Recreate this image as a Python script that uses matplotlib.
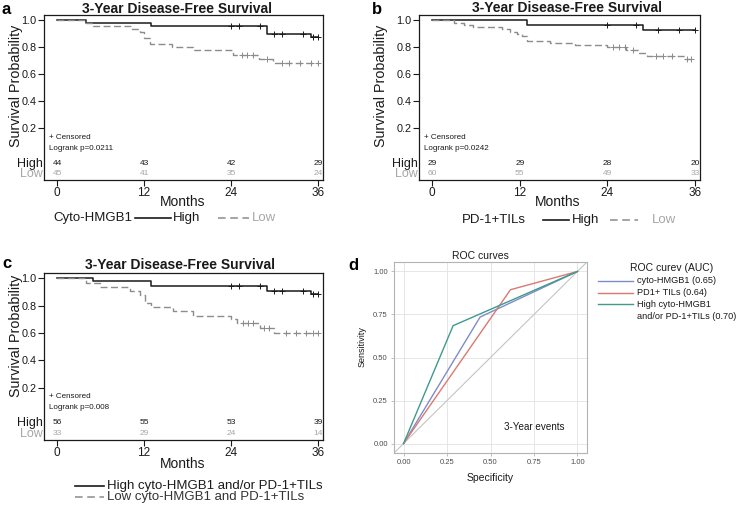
import numpy as np
import matplotlib.pyplot as plt
from matplotlib.lines import Line2D

plt.rcParams['font.family'] = ['Liberation Sans', 'DejaVu Sans']

W, H = 738, 508

# Kaplan-Meier curves: step months and survival after each step
a_high_t = [0, 4, 13, 29, 35, 36]
a_high_s = [1.0, 0.977, 0.955, 0.900, 0.878, 0.878]
a_high_cens = [24, 25.1, 28, 30, 31, 34, 35.3, 36]
a_low_t = [0, 4, 5, 10.3, 11.4, 12.0, 12.8, 15.8, 18.8, 24.3, 27.8, 29.8, 36]
a_low_s = [1.0, 0.978, 0.956, 0.933, 0.911, 0.867, 0.822, 0.800, 0.778, 0.745, 0.712, 0.685, 0.685]
a_low_cens = [25.5, 26.2, 27, 29, 31, 32, 33.5, 35, 36]

b_high_t = [0, 13, 28.9, 36]
b_high_s = [1.0, 0.966, 0.925, 0.925]
b_high_cens = [24, 27.9, 30.9, 33.8, 36]
b_low_t = [0, 3, 4.3, 5.6, 9.6, 10.7, 11.6, 12.3, 13, 16.2, 19.6, 24, 26.6, 28.2, 29.4, 34.6, 36]
b_low_s = [1.0, 0.983, 0.967, 0.950, 0.933, 0.917, 0.900, 0.883, 0.850, 0.833, 0.817, 0.800,
           0.780, 0.760, 0.735, 0.710, 0.710]
b_low_cens = [24.8, 25.6, 26.4, 27.5, 30.7, 31.6, 32.8, 34.9, 35.5]

c_high_t = [0, 5, 13, 29, 35, 36]
c_high_s = [1.0, 0.982, 0.946, 0.908, 0.885, 0.885]
c_high_cens = [24, 25.1, 28, 30, 31, 34, 35.3, 36]
c_low_t = [0, 4, 5.9, 10, 11.4, 12.1, 13, 16, 18.8, 24.0, 24.9, 28, 30, 36]
c_low_s = [1.0, 0.970, 0.940, 0.910, 0.880, 0.820, 0.790, 0.760, 0.725, 0.700, 0.670, 0.640, 0.600, 0.600]
c_low_cens = [25.7, 26.3, 27.0, 28.6, 29.3, 31.6, 33.0, 34.4, 35.3, 36]

risk_months = [0, 12, 24, 36]
a_risk_high = [44, 43, 42, 29]
a_risk_low = [45, 41, 35, 24]
b_risk_high = [29, 29, 28, 20]
b_risk_low = [60, 55, 49, 33]
c_risk_high = [56, 55, 53, 39]
c_risk_low = [33, 29, 24, 14]

a_p = 'Logrank p=0.0211'
b_p = 'Logrank p=0.0242'
c_p = 'Logrank p=0.008'

# ROC curves
roc_names = ['cyto-HMGB1 (0.65)', 'PD1+ TILs (0.64)', 'High cyto-HMGB1\nand/or PD-1+TILs (0.70)']
roc_fpr = [[0, 0.44, 1], [0, 0.615, 1], [0, 0.285, 1]]
roc_tpr = [[0, 0.735, 1], [0, 0.894, 1], [0, 0.685, 1]]
roc_colors = ['#7f8ccc', '#d97a70', '#3f9a8b']

DARK = '#1a1a1a'
GRAY = '#8c8c8c'
LGRAY = '#a6a6a6'


def fx(x):
    return x / W


def fy(y):
    return 1 - y / H


def box(l, t, r, b):
    return [fx(l), fy(b), (r - l) / W, (b - t) / H]


def fline(fig, x0, x1, y, **kw):
    fig.add_artist(Line2D([fx(x0), fx(x1)], [fy(y), fy(y)], transform=fig.transFigure, **kw))


def censor_y(t, s, c):
    idx = np.searchsorted(t, c, side='right') - 1
    return np.asarray(s)[idx]


def draw_km(ax, high, low, risk_high, risk_low, ptext):
    for (t, s, cens), col, dash in [(high, DARK, None), (low, GRAY, (5, 2.5))]:
        ln, = ax.step(t, s, where='post', color=col, lw=1.1 if dash is None else 1.0)
        if dash is not None:
            ln.set_dashes(dash)
        ax.plot(cens, censor_y(t, s, cens), ls='none', marker='+', ms=4, mew=0.7, color=col)
    ax.set_xlim(-1.8, 36.7)
    ax.set_ylim(-0.185, 1.04)
    ax.set_xticks(risk_months)
    ax.set_yticks([0.2, 0.4, 0.6, 0.8, 1.0])
    ax.set_yticklabels(['0.2', '0.4', '0.6', '0.8', '1.0'])
    ax.tick_params(direction='out', length=4, width=0.8, labelsize=7.8, pad=1.2, colors=DARK)
    ax.tick_params(axis='x', labelsize=8.5)
    for sp in ax.spines.values():
        sp.set_linewidth(0.9)
        sp.set_color(DARK)
    ax.text(-1.1, 0.133, '+ Censored', fontsize=5.8, va='center', color=DARK)
    ax.text(-1.1, 0.052, ptext, fontsize=5.8, va='center', color=DARK)
    for m, nh, nl in zip(risk_months, risk_high, risk_low):
        ax.text(m, -0.06, str(nh), fontsize=6, ha='center', va='center', color=DARK)
        ax.text(m, -0.14, str(nl), fontsize=6, ha='center', va='center', color=LGRAY)
    ax.text(-0.005, 0.1, 'High', transform=ax.transAxes, fontsize=9, ha='right', va='center', color=DARK)
    ax.text(-0.005, 0.035, 'Low', transform=ax.transAxes, fontsize=9, ha='right', va='center', color=LGRAY)


fig = plt.figure(figsize=(W / 100, H / 100), dpi=100)

ax_a = fig.add_axes(box(44, 15, 323, 180))
draw_km(ax_a, (a_high_t, a_high_s, a_high_cens), (a_low_t, a_low_s, a_low_cens),
        a_risk_high, a_risk_low, a_p)
ax_b = fig.add_axes(box(419, 15, 700, 180))
draw_km(ax_b, (b_high_t, b_high_s, b_high_cens), (b_low_t, b_low_s, b_low_cens),
        b_risk_high, b_risk_low, b_p)
ax_c = fig.add_axes(box(44, 273, 323, 440))
draw_km(ax_c, (c_high_t, c_high_s, c_high_cens), (c_low_t, c_low_s, c_low_cens),
        c_risk_high, c_risk_low, c_p)

title = '3-Year Disease-Free Survival'
for (x, y) in [(177, 9), (567, 8), (180, 265)]:
    fig.text(fx(x), fy(y), title, fontsize=10, fontweight='bold', ha='center', va='center', color=DARK)
for (x, y) in [(16, 86), (381, 86), (16, 336)]:
    fig.text(fx(x), fy(y), 'Survival Probability', fontsize=10.3, rotation=90,
             ha='center', va='center', color=DARK)
for (x, y) in [(183, 202), (558, 202), (183, 464)]:
    fig.text(fx(x), fy(y), 'Months', fontsize=10, ha='center', va='center', color=DARK)

# panel letters
for lab, x, y in [('a', 6, 10), ('b', 377, 10), ('c', 7, 264), ('d', 353, 266)]:
    fig.text(fx(x), fy(y), lab, fontsize=12, fontweight='bold', ha='center', va='center')

# legends below KM plots
fig.text(fx(53), fy(218), 'Cyto-HMGB1', fontsize=9.5, va='center', color=DARK)
fline(fig, 135, 171, 218, color=DARK, lw=1.2)
fig.text(fx(173), fy(218), 'High', fontsize=9.5, va='center', color=DARK)
fline(fig, 218, 249, 218, color=GRAY, lw=1.1, dashes=(5, 3))
fig.text(fx(252), fy(218), 'Low', fontsize=9.5, va='center', color=LGRAY)

fig.text(fx(462), fy(220), 'PD-1+TILs', fontsize=9.5, va='center', color=DARK)
fline(fig, 543, 569, 220, color=DARK, lw=1.2)
fig.text(fx(572), fy(220), 'High', fontsize=9.5, va='center', color=DARK)
fline(fig, 610, 638, 220, color=GRAY, lw=1.1, dashes=(5, 3))
fig.text(fx(652), fy(220), 'Low', fontsize=9.5, va='center', color=LGRAY)

fline(fig, 75, 104, 486, color=DARK, lw=1.2)
fig.text(fx(107), fy(486), 'High cyto-HMGB1 and/or PD-1+TILs', fontsize=9.5, va='center', color=DARK)
fline(fig, 75, 104, 497, color=GRAY, lw=1.1, dashes=(5, 3))
fig.text(fx(107), fy(497), 'Low cyto-HMGB1 and PD-1+TILs', fontsize=9.5, va='center', color='#333333')

# ROC panel
ax_d = fig.add_axes(box(394, 262, 587, 453))
ax_d.set_xlim(-0.055, 1.055)
ax_d.set_ylim(-0.055, 1.055)
ticks = [0, 0.25, 0.5, 0.75, 1.0]
ax_d.set_xticks(ticks)
ax_d.set_yticks(ticks)
ax_d.set_xticklabels(['0.00', '0.25', '0.50', '0.75', '1.00'])
ax_d.set_yticklabels(['0.00', '0.25', '0.50', '0.75', '1.00'])
ax_d.grid(True, color='#e6e6e6', lw=0.7)
ax_d.set_axisbelow(True)
ax_d.tick_params(length=2.5, width=0.6, color='#b3b3b3', labelsize=5.5, labelcolor='#4d4d4d', pad=2)
for sp in ax_d.spines.values():
    sp.set_color('#b3b3b3')
    sp.set_linewidth(0.8)
ax_d.plot([-0.1, 1.1], [-0.1, 1.1], color='#c4c4c4', lw=0.8)
for xs, ys, col in zip(roc_fpr, roc_tpr, roc_colors):
    ax_d.plot(xs, ys, color=col, lw=1.0)
ax_d.text(0.75, 0.094, '3-Year events', fontsize=7.1, ha='center', va='center', color=DARK)
ax_d.set_title('ROC curves', fontsize=7.5, pad=2, x=0.45, color=DARK)
fig.text(fx(490), fy(478), 'Specificity', fontsize=7.5, ha='center', va='center', color=DARK)
fig.text(fx(362), fy(347), 'Sensitivity', fontsize=6.5, rotation=90, ha='center', va='center', color=DARK)

fig.text(fx(672), fy(268), 'ROC curev (AUC)', fontsize=7.5, ha='center', va='center', color=DARK)
ly = 280.7
for name, col in zip(roc_names, roc_colors):
    fline(fig, 598, 633, ly, color=col, lw=1.0)
    for k, part in enumerate(name.split('\n')):
        fig.text(fx(637), fy(ly + 12 * k), part, fontsize=6.6, va='center', color=DARK)
    ly += 11.8

fig.savefig('out.png', dpi=100)
